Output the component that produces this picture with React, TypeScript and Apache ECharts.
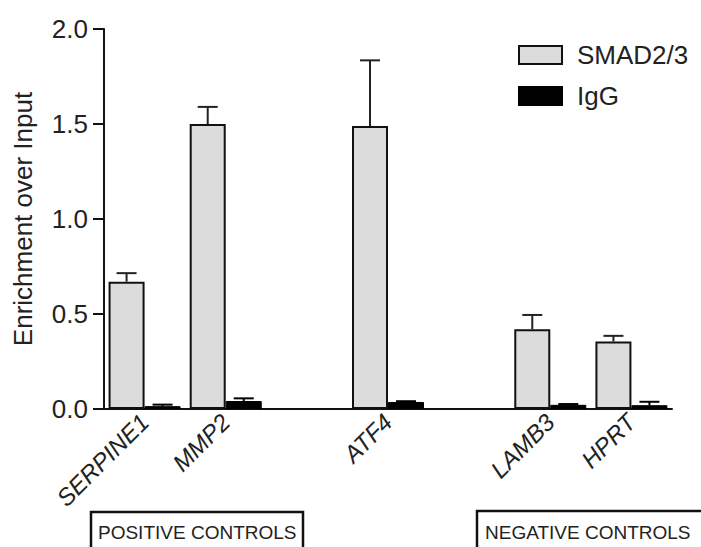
import React, { useEffect, useRef } from "react";
import * as echarts from "echarts";

const categories = ["SERPINE1", "MMP2", "", "ATF4", "", "LAMB3", "HPRT"];
const smadValues: (number | string)[] = [0.67, 1.5, "-", 1.49, "-", 0.42, 0.355];
const smadErrors: (number | null)[] = [0.045, 0.09, null, 0.345, null, 0.075, 0.03];
const iggValues: (number | string)[] = [0.015, 0.042, "-", 0.037, "-", 0.022, 0.02];
const iggErrors: (number | null)[] = [0.008, 0.014, null, 0.004, null, 0.004, 0.018];
const yTicks = [0, 0.5, 1.0, 1.5, 2.0];

const FONT = "'Liberation Sans', Arial, Helvetica, sans-serif";
const BAR_W = 36;

function errData(vals: (number | string)[], errs: (number | null)[]) {
  const out: number[][] = [];
  vals.forEach((v, i) => {
    if (typeof v === "number" && errs[i] != null) out.push([i, v, errs[i] as number]);
  });
  return out;
}

function makeErrRender(offset: number, color: string) {
  return (params: any, api: any) => {
    const idx = api.value(0);
    const v = api.value(1);
    const e = api.value(2);
    const base = api.coord([idx, v]);
    const top = api.coord([idx, v + e]);
    const x = base[0] + offset;
    const cap = 10;
    const style = { stroke: color, lineWidth: 2 };
    return {
      type: "group",
      children: [
        { type: "line", shape: { x1: x, y1: base[1], x2: x, y2: top[1] }, style },
        { type: "line", shape: { x1: x - cap, y1: top[1], x2: x + cap, y2: top[1] }, style },
      ],
    };
  };
}

export default function App() {
  const ref = useRef<HTMLDivElement>(null);
  useEffect(() => {
    if (!ref.current) return;
    const chart = echarts.init(ref.current, undefined, { renderer: "svg" });
    chart.setOption({
      animation: false,
      backgroundColor: "#ffffff",
      textStyle: { fontFamily: FONT },
      grid: { left: 104, right: 29, top: 29, bottom: 138, containLabel: false },
      legend: {
        data: ["SMAD2/3", "IgG"],
        orient: "vertical",
        left: 518,
        top: 42,
        padding: 0,
        itemWidth: 43,
        itemHeight: 18,
        itemGap: 15,
        icon: "rect",
        textStyle: {
          fontSize: 26,
          lineHeight: 18,
          color: "#222",
          fontFamily: FONT,
          padding: [0, 0, 0, 10],
        },
      },
      xAxis: {
        type: "category",
        data: categories,
        boundaryGap: true,
        axisLine: { lineStyle: { color: "#111", width: 2 } },
        axisTick: { alignWithLabel: true, length: 12, lineStyle: { color: "#111", width: 1.5 } },
        axisLabel: {
          rotate: 45,
          interval: 0,
          margin: 9,
          fontSize: 24,
          fontStyle: "italic",
          color: "#222",
          fontFamily: FONT,
        },
      },
      yAxis: {
        type: "value",
        min: 0,
        max: 2,
        interval: 0.5,
        name: "Enrichment over Input",
        nameLocation: "middle",
        nameRotate: 90,
        nameGap: 68,
        nameTextStyle: { fontSize: 26, color: "#222", fontFamily: FONT },
        splitLine: { show: false },
        axisLine: { show: true, lineStyle: { color: "#111", width: 2 } },
        axisTick: { show: true, length: 11, lineStyle: { color: "#111", width: 2 } },
        axisLabel: {
          margin: 16,
          fontSize: 26,
          color: "#222",
          fontFamily: FONT,
          formatter: (v: number) => (yTicks.includes(v) ? v.toFixed(1) : ""),
        },
      },
      series: [
        {
          name: "SMAD2/3",
          type: "bar",
          data: smadValues,
          barWidth: BAR_W,
          barGap: "0%",
          itemStyle: { color: "#dcdcdc", borderColor: "#111", borderWidth: 2 },
        },
        {
          name: "IgG",
          type: "bar",
          data: iggValues,
          barWidth: BAR_W,
          barGap: "0%",
          itemStyle: { color: "#000", borderColor: "#000", borderWidth: 1 },
        },
        {
          name: "smadErr",
          type: "custom",
          data: errData(smadValues, smadErrors),
          renderItem: makeErrRender(-BAR_W / 2, "#222"),
          z: 3,
          silent: true,
        },
        {
          name: "iggErr",
          type: "custom",
          data: errData(iggValues, iggErrors),
          renderItem: makeErrRender(BAR_W / 2, "#000"),
          z: 3,
          silent: true,
        },
      ],
      graphic: [
        {
          type: "rect",
          shape: { x: 91, y: 512, width: 212, height: 60 },
          style: { fill: "none", stroke: "#111", lineWidth: 2.5 },
        },
        {
          type: "text",
          x: 98,
          y: 532,
          style: {
            text: "POSITIVE CONTROLS",
            font: `19px ${FONT}`,
            fill: "#222",
            verticalAlign: "middle",
          },
        },
        {
          type: "rect",
          shape: { x: 477, y: 511, width: 260, height: 60 },
          style: { fill: "none", stroke: "#111", lineWidth: 2.5 },
        },
        {
          type: "text",
          x: 485,
          y: 532,
          style: {
            text: "NEGATIVE CONTROLS",
            font: `19px ${FONT}`,
            fill: "#222",
            verticalAlign: "middle",
          },
        },
      ],
    });
    return () => chart.dispose();
  }, []);
  return <div ref={ref} style={{ width: 701, height: 547, position: "absolute", left: 0, top: 0 }} />;
}
